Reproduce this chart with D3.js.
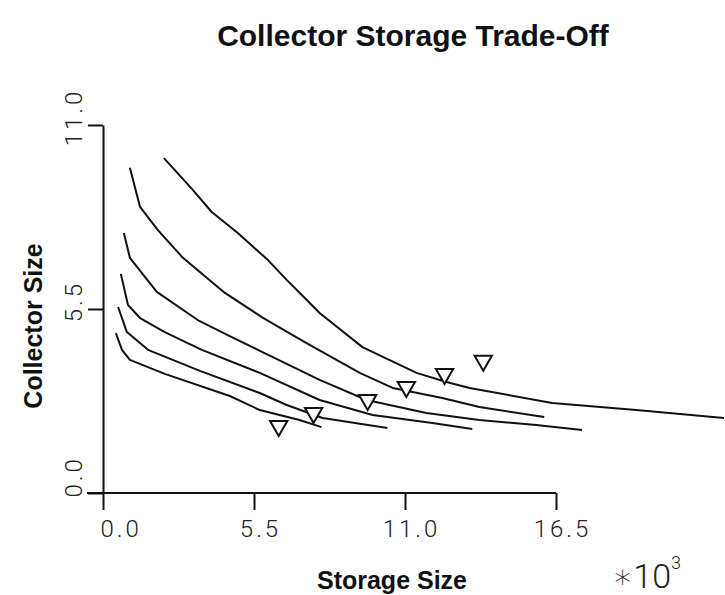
<!DOCTYPE html>
<html>
<head>
<meta charset="utf-8">
<script src="https://cdn.jsdelivr.net/npm/d3@7"></script>
<style>
  body { margin: 0; background: #fff; }
  svg { display: block; }
  .title, .axis-title { font-family: "Liberation Sans", Arial, sans-serif; font-weight: bold; fill: #111; }
  .tick text, .mult { font-family: "Roboto", "DejaVu Sans", sans-serif; font-weight: 300; fill: #222; }
  .axis path, .axis line { stroke: #111; stroke-width: 2; }
  .curve { fill: none; stroke: #111; stroke-width: 2; stroke-linejoin: round; }
  .marker { fill: #fff; stroke: #111; stroke-width: 2; }
</style>
</head>
<body>
<svg id="chart" width="725" height="595"></svg>
<script>
// storage size (x1000) / collector size pairs, one array per trade-off curve
const curveA = [[2.22, 10.01], [3.27, 9.06], [3.96, 8.40], [4.91, 7.77], [6.00, 6.97], [6.69, 6.37],
    [7.35, 5.83], [7.89, 5.38], [9.45, 4.36], [11.42, 3.59], [12.51, 3.32], [13.35, 3.14],
    [16.36, 2.69], [19.42, 2.48], [22.62, 2.24]];
const curveB = [[0.98, 9.72], [1.35, 8.55], [2.00, 7.86], [2.91, 7.03], [4.44, 5.98], [5.78, 5.26],
    [7.35, 4.51], [9.35, 3.59], [10.55, 3.14], [12.36, 2.84], [13.71, 2.57], [16.07, 2.27]];
const curveC = [[0.76, 7.77], [0.98, 7.03], [1.96, 6.01], [3.45, 5.17], [4.69, 4.66], [5.64, 4.28],
    [7.89, 3.38], [9.60, 2.78], [11.78, 2.39], [13.71, 2.18], [15.78, 2.03], [17.45, 1.88]];
const curveD = [[0.65, 6.55], [0.91, 5.62], [1.35, 5.23], [2.25, 4.81], [3.60, 4.28], [5.71, 3.59],
    [7.89, 2.78], [9.82, 2.33], [12.00, 2.09], [13.45, 1.91]];
const curveE = [[0.55, 5.56], [0.87, 4.81], [1.64, 4.28], [3.53, 3.65], [5.71, 2.99], [6.69, 2.63],
    [8.00, 2.24], [10.36, 1.94]];
const curveF = [[0.47, 4.78], [0.69, 4.28], [0.98, 3.98], [2.25, 3.56], [4.62, 2.90], [5.71, 2.48],
    [7.16, 2.18], [7.96, 1.97]];

// optimum points marked with the open triangles
const optimumX = [6.40, 7.67, 9.64, 11.05, 12.44, 13.85];
const optimumY = [2.00, 2.39, 2.78, 3.17, 3.56, 3.95];

const xTicks = [0, 5.5, 11, 16.5];
const yTicks = [0, 5.5, 11];

(function() {

const svg = d3.select("#chart");

let x = d3.scaleLinear().domain([0, 16.5]).range([103, 556])
  , y = d3.scaleLinear().domain([0, 11]).range([493, 125]);

drawAxes();
drawCurves();
drawMarkers();
drawTexts();

/**
 * Axes with plotter style tick labels
 */

function drawAxes() {
    const fmt = d3.format(".1f");

    const gx = svg.append("g")
        .attr("class", "axis x")
        .attr("transform", "translate(0," + y(0) + ")")
        .call(d3.axisBottom(x).tickValues(xTicks).tickFormat(fmt).tickSize(17).tickSizeOuter(0));

    // the base line runs a bit left of the y axis
    gx.select(".domain").attr("d", "M" + (x.range()[0] - 16) + ",0H" + x.range()[1]);

    gx.selectAll(".tick text")
        .attr("y", 44)
        .attr("dy", null)
        .attr("font-size", 24)
        .attr("letter-spacing", 3)
        .attr("text-anchor", (d) => d === 0 ? "start" : "middle")
        .attr("x", (d) => d === 0 ? -3 : 6);

    const gy = svg.append("g")
        .attr("class", "axis y")
        .attr("transform", "translate(" + x(0) + ",0)")
        .call(d3.axisLeft(y).tickValues(yTicks).tickFormat(fmt).tickSize(15).tickSizeOuter(0));

    gy.selectAll(".tick text")
        .attr("transform", "rotate(-90)")
        .attr("font-size", 24)
        .attr("letter-spacing", 3)
        .attr("dy", null)
        .attr("y", -21)
        .attr("text-anchor", (d) => d === 0 ? "start" : "middle")
        .attr("x", (d) => d === 0 ? -4 : 8);
}

/**
 * Trade-off curves
 */

function drawCurves() {
    const line = d3.line()
        .x((d) => x(d[0]))
        .y((d) => y(d[1]));

    svg.append("g")
        .attr("class", "curves")
        .selectAll("path")
        .data([curveA, curveB, curveC, curveD, curveE, curveF])
        .enter().append("path")
        .attr("class", "curve")
        .attr("d", line);
}

/**
 * Downward triangles on the optimum points
 */

function drawMarkers() {
    const tri = d3.symbol().type(d3.symbolTriangle).size(130);

    svg.append("g")
        .attr("class", "markers")
        .selectAll("path")
        .data(optimumX.map((v, i) => [v, optimumY[i]]))
        .enter().append("path")
        .attr("class", "marker")
        .attr("d", tri)
        .attr("transform", (d) => "translate(" + x(d[0]) + "," + y(d[1]) + ") rotate(180)");
}

/**
 * Title, axis titles and the x multiplier
 */

function drawTexts() {
    svg.append("text")
        .attr("class", "title")
        .attr("x", 413)
        .attr("y", 46)
        .attr("text-anchor", "middle")
        .attr("font-size", 30)
        .text("Collector Storage Trade-Off");

    svg.append("text")
        .attr("class", "axis-title")
        .attr("x", 392)
        .attr("y", 589)
        .attr("text-anchor", "middle")
        .attr("font-size", 25)
        .text("Storage Size");

    svg.append("text")
        .attr("class", "axis-title")
        .attr("transform", "translate(42,326) rotate(-90)")
        .attr("text-anchor", "middle")
        .attr("font-size", 25)
        .text("Collector Size");

    const mult = svg.append("text")
        .attr("class", "mult")
        .attr("x", 612)
        .attr("y", 588)
        .attr("font-size", 34);
    mult.append("tspan").text("\u221710");
    mult.append("tspan")
        .attr("font-size", 18)
        .attr("dy", -19)
        .text("3");
}

})();
</script>
</body>
</html>
